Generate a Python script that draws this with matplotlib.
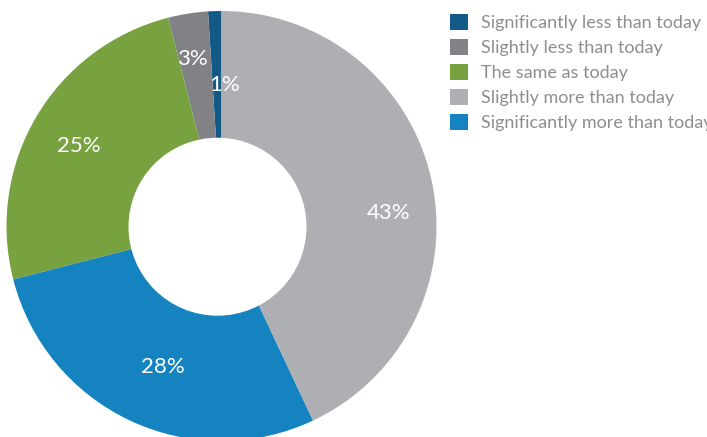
import matplotlib
matplotlib.use("Agg")
import matplotlib.pyplot as plt
from matplotlib.patches import Circle

categories = [
    "Significantly less than today",
    "Slightly less than today",
    "The same as today",
    "Slightly more than today",
    "Significantly more than today",
]
shares = [1, 3, 25, 43, 28]
colors = ["#135b86", "#818285", "#78a240", "#aeafb2", "#1683c1"]

# order of the slices going counter-clockwise from 12 o'clock
ring_order = [0, 1, 2, 4, 3]

# where each percentage sits, in pie units (outer radius = 1)
label_xy = [(0.014, 0.656), (-0.135, 0.777), (-0.664, 0.370),
            (0.779, 0.060), (-0.274, -0.654)]

FONT = "Lato"
W, H = 707, 437
fig = plt.figure(figsize=(W / 100, H / 100), dpi=100)

R = 215.0              # outer radius in px
cx, cy = 221.5, 226.0  # pie centre, px from top-left
ax = fig.add_axes([(cx - R) / W, (H - cy - R) / H, 2 * R / W, 2 * R / H])

wedges, _ = ax.pie([shares[i] for i in ring_order],
                   colors=[colors[i] for i in ring_order],
                   startangle=90, counterclock=True, radius=1,
                   wedgeprops=dict(linewidth=0))
handles = [None] * len(categories)
for w, i in zip(wedges, ring_order):
    handles[i] = w

ax.set_xlim(-1, 1)
ax.set_ylim(-1, 1)
ax.set_aspect("equal")
ax.axis("off")

# hole of the donut
ax.add_patch(Circle((-4.0 / R, -0.7 / R), 89.0 / R, facecolor="white",
                    edgecolor="none", zorder=3))

for (x, y), v in zip(label_xy, shares):
    ax.text(x, y, f"{v}%", ha="center", va="center", color="white",
            fontsize=16, family=FONT, weight="normal", zorder=4)

fig.legend(handles, categories, loc="upper left",
           bbox_to_anchor=(450 / W, 1 - 14 / H), frameon=False,
           prop=dict(family=FONT, weight="normal", size=13.0),
           labelcolor="#8d8e90", handlelength=1.02, handleheight=1.02,
           handletextpad=0.68, labelspacing=0.42, borderaxespad=0,
           borderpad=0)

fig.savefig("out.png", dpi=100)
